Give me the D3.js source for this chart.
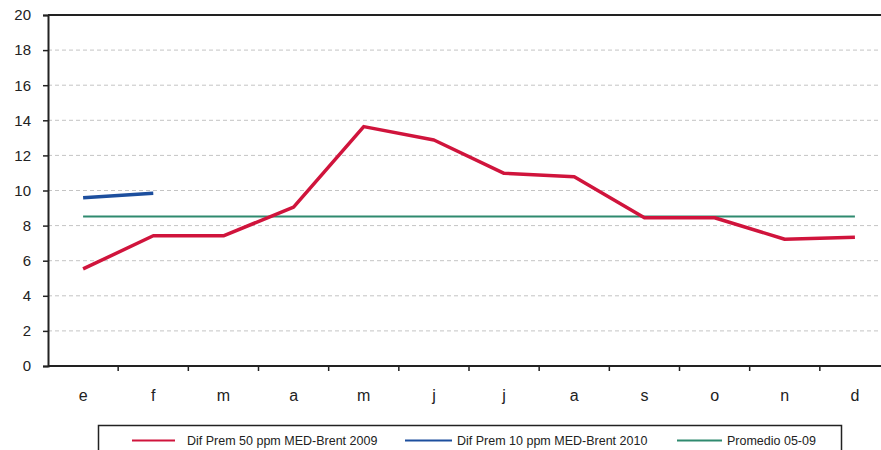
<!DOCTYPE html>
<html><head><meta charset="utf-8">
<script src="https://cdn.jsdelivr.net/npm/d3@7"></script>
<style>body{margin:0;background:#fff}svg{display:block;font-family:"Liberation Sans",Arial,sans-serif}</style>
</head><body><svg id="c" width="881" height="450"></svg>
<script>
const months = ["e","f","m","a","m","j","j","a","s","o","n","d"];
const dif2009 = [5.53,7.42,7.42,9.05,13.64,12.88,10.98,10.79,8.45,8.45,7.22,7.33];
const dif2010 = [9.59,9.84];
const promedio = 8.52;
const yTicks = [0,2,4,6,8,10,12,14,16,18,20];
const seriesNames = ["Dif Prem 50 ppm MED-Brent 2009","Dif Prem 10 ppm MED-Brent 2010","Promedio 05-09"];
const colors = ["#d0143c","#1d4f9e","#2f8a6f"];

const svg = d3.select("#c");
const x0 = 48, x1 = 890, yTop = 15, yBot = 366;
const idx = months.map((d,i)=>i);
const x = d3.scaleBand().domain(idx).range([x0,x1]);
const y = d3.scaleLinear().domain([0,20]).range([yBot,yTop]);
const cx = i => x(i) + x.bandwidth()/2;

// gridlines
svg.append("g").selectAll("line").data(yTicks.filter(t=>t>0&&t<20)).join("line")
  .attr("x1",x0).attr("x2",881).attr("y1",d=>y(d)).attr("y2",d=>y(d))
  .attr("stroke","#c4c4c4").attr("stroke-width",1).attr("stroke-dasharray","4,3");
// top border
svg.append("line").attr("x1",x0).attr("x2",881).attr("y1",y(20)).attr("y2",y(20))
  .attr("stroke","#222").attr("stroke-width",2);

// y axis
const ya = svg.append("g").attr("transform",`translate(${x0},0)`)
  .call(d3.axisLeft(y).tickValues(yTicks).tickSize(5).tickPadding(12));
ya.select(".domain").attr("stroke","#222").attr("stroke-width",2);
ya.selectAll(".tick line").attr("stroke","#222").attr("stroke-width",1.5);
ya.selectAll("text").attr("font-size","15px").attr("fill","#222").attr("font-family","Liberation Sans, Arial, sans-serif");

// x axis
const xa = svg.append("g").attr("transform",`translate(0,${yBot})`)
  .call(d3.axisBottom(x).tickSize(0).tickFormat(i=>months[i]).tickPadding(24));
xa.select(".domain").attr("stroke","#222").attr("stroke-width",2).attr("d",`M${x0},0H881`);
xa.selectAll("text").attr("font-size","16px").attr("fill","#222").attr("font-family","Liberation Sans, Arial, sans-serif");
svg.append("g").selectAll("line").data(idx.slice(1)).join("line")
  .attr("x1",d=>x(d)).attr("x2",d=>x(d)).attr("y1",yBot).attr("y2",yBot+5)
  .attr("stroke","#222").attr("stroke-width",1.5);

// green average
svg.append("line").attr("x1",cx(0)).attr("x2",cx(11)).attr("y1",y(promedio)).attr("y2",y(promedio))
  .attr("stroke",colors[2]).attr("stroke-width",2);

const line = d3.line().x((d,i)=>cx(i)).y(d=>y(d));
svg.append("path").datum(dif2009).attr("d",line).attr("fill","none")
  .attr("stroke",colors[0]).attr("stroke-width",3.5).attr("stroke-linejoin","round");
svg.append("path").datum(dif2010).attr("d",line).attr("fill","none")
  .attr("stroke",colors[1]).attr("stroke-width",3.5).attr("stroke-linejoin","round");

// legend
svg.append("rect").attr("x",98.5).attr("y",425.5).attr("width",743).attr("height",40)
  .attr("fill","#fff").attr("stroke","#222").attr("stroke-width",1.5);
const legPos = [[132,175,187],[405,452,457],[677,722,727]];
const lg = svg.append("g");
seriesNames.forEach((n,i)=>{
  const p = legPos[i];
  lg.append("line").attr("x1",p[0]).attr("x2",p[1]).attr("y1",440.5).attr("y2",440.5)
    .attr("stroke",colors[i]).attr("stroke-width",2);
  lg.append("text").attr("x",p[2]).attr("y",445).attr("font-size","12.5px").attr("fill","#222").text(n);
});
</script></body></html>
